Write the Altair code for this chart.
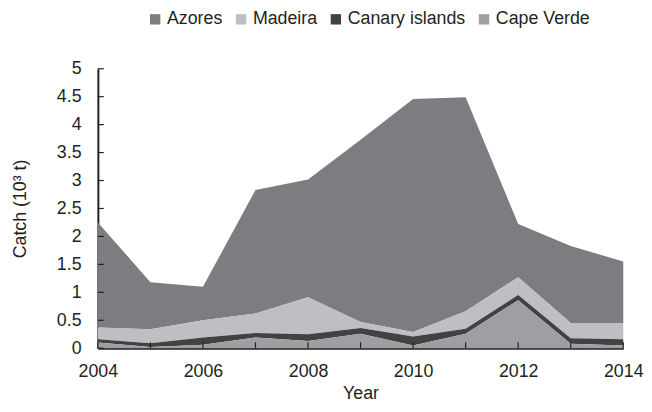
import altair as alt
import pandas as pd

years = [2004, 2005, 2006, 2007, 2008, 2009, 2010, 2011, 2012, 2013, 2014]
azores = [1.88, 0.84, 0.60, 2.21, 2.11, 3.26, 4.17, 3.83, 0.95, 1.38, 1.10]
madeira = [0.21, 0.25, 0.31, 0.35, 0.66, 0.11, 0.08, 0.31, 0.32, 0.27, 0.29]
canary = [0.06, 0.07, 0.13, 0.08, 0.12, 0.10, 0.16, 0.09, 0.09, 0.10, 0.11]
cape_verde = [0.10, 0.02, 0.06, 0.19, 0.13, 0.26, 0.05, 0.26, 0.86, 0.08, 0.05]

series_names = ["Azores", "Madeira", "Canary islands", "Cape Verde"]
series_colors = ["#7c7d81", "#bebfc2", "#424242", "#9e9fa2"]
stack_rank = {"Cape Verde": 0, "Canary islands": 1, "Madeira": 2, "Azores": 3}

x_label_years = [2004, 2006, 2008, 2010, 2012, 2014]
y_ticks = [0, 0.5, 1, 1.5, 2, 2.5, 3, 3.5, 4, 4.5, 5]

rows = []
for name, vals in zip(series_names, [azores, madeira, canary, cape_verde]):
    for yr, v in zip(years, vals):
        rows.append({"Year": yr, "Series": name, "Catch": v, "rank": stack_rank[name]})
df = pd.DataFrame(rows)

W, H = 532, 283
FONT = "Liberation Sans"
TXT = "#231f20"
FS = 18

xscale = alt.Scale(domain=[2004, 2014], nice=False, zero=False)
yscale = alt.Scale(domain=[0, 5], nice=False)

xaxis = alt.Axis(values=x_label_years, format="d", ticks=False, tickSize=0,
                 grid=False, labelPadding=15, labelFlush=False, labelOverlap=False,
                 labelFontSize=FS, titleFontSize=FS, labelFont=FONT, titleFont=FONT,
                 labelColor=TXT, titleColor=TXT, titleFontWeight="normal",
                 title="Year", titlePadding=4,
                 domainColor=TXT, domainWidth=2)
yaxis = alt.Axis(values=y_ticks, format="~g", ticks=False, tickSize=0,
                 grid=False, labelPadding=17, labelOverlap=False, labelFlush=False,
                 labelFontSize=FS, titleFontSize=FS, labelFont=FONT, titleFont=FONT,
                 labelColor=TXT, titleColor=TXT, titleFontWeight="normal",
                 title="Catch (10³ t)", titlePadding=27,
                 domainColor=TXT, domainWidth=2)

area = alt.Chart(df).mark_area(interpolate="linear").encode(
    x=alt.X("Year:Q", scale=xscale, axis=xaxis),
    y=alt.Y("Catch:Q", stack="zero", scale=yscale, axis=yaxis),
    color=alt.Color("Series:N",
                    scale=alt.Scale(domain=series_names, range=series_colors),
                    legend=alt.Legend(title=None, orient="none", direction="horizontal",
                                      legendX=49, legendY=-59, symbolType="square",
                                      symbolSize=110, symbolStrokeWidth=0, labelOffset=3,
                                      columnPadding=9, labelFontSize=FS, labelColor=TXT,
                                      labelFont=FONT)),
    order=alt.Order("rank:Q"),
)

xt = alt.Chart(pd.DataFrame({"Year": years})).mark_rule(color=TXT, strokeWidth=1.2).encode(
    x=alt.X("Year:Q", scale=xscale, axis=xaxis),
    y=alt.value(H),
    y2=alt.value(H - 6),
)
yt = alt.Chart(pd.DataFrame({"Catch": y_ticks})).mark_rule(color=TXT, strokeWidth=1.2).encode(
    y=alt.Y("Catch:Q", scale=yscale, axis=yaxis),
    x=alt.value(0),
    x2=alt.value(6),
)

chart = alt.layer(area, xt, yt).properties(
    width=W, height=H,
    autosize=alt.AutoSizeParams(type="none"),
    padding={"left": 91, "top": 59, "right": 21, "bottom": 54},
).configure_view(strokeWidth=0)

chart.save("out.html", embed_options={"renderer": "svg", "actions": False})
